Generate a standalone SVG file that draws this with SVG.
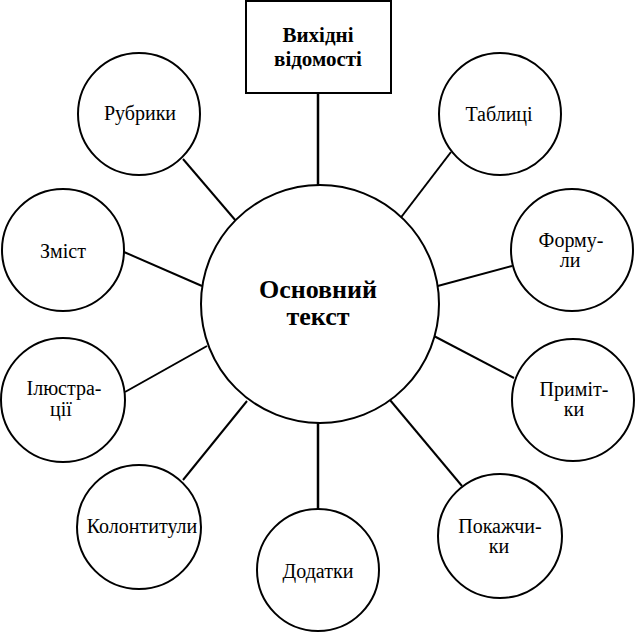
<svg xmlns="http://www.w3.org/2000/svg" width="637" height="634" viewBox="0 0 637 634">
<style>
.n{fill:#fff;stroke:#000;stroke-width:2}
.c line{stroke:#000;stroke-width:2}
.t{font-family:"Liberation Serif","Times New Roman","DejaVu Serif",serif;font-size:20px;fill:#000;text-anchor:middle}
.b{font-family:"Liberation Serif","Times New Roman","DejaVu Serif",serif;font-weight:bold;fill:#000;text-anchor:middle}
</style>
<rect width="637" height="634" fill="#fff"/>
<g class="c" id="connectors">
<line x1="318" y1="93" x2="318" y2="186" style="stroke-width:2.5"/>
<line x1="318" y1="423" x2="318" y2="509" style="stroke-width:2.5"/>
<line x1="183" y1="159" x2="236" y2="221"/>
<line x1="451" y1="152" x2="399" y2="220"/>
<line x1="124" y1="252" x2="202" y2="286"/>
<line x1="512" y1="266" x2="434" y2="287"/>
<line x1="125" y1="392" x2="207" y2="346"/>
<line x1="432" y1="335" x2="514" y2="378"/>
<line x1="183" y1="480" x2="247" y2="401"/>
<line x1="390" y1="400" x2="462" y2="486"/>
</g>
<g id="vykhidni">
<rect class="n" x="246" y="1" width="145" height="92"/>
<text class="b" x="318" y="42" font-size="21">Вихідні</text>
<text class="b" x="318" y="66" font-size="21">відомості</text>
</g>
<g id="osnovnyi">
<circle class="n" cx="320" cy="304" r="119"/>
<text class="b" x="318" y="298" font-size="26">Основний</text>
<text class="b" x="318" y="325" font-size="26">текст</text>
</g>
<g id="rubryky">
<circle class="n" cx="139" cy="114" r="61"/>
<text class="t" x="140" y="120">Рубрики</text>
</g>
<g id="tablytsi">
<circle class="n" cx="500" cy="114" r="61"/>
<text class="t" x="499" y="121">Таблиці</text>
</g>
<g id="zmist">
<circle class="n" cx="63" cy="250" r="61"/>
<text class="t" x="63" y="258">Зміст</text>
</g>
<g id="formuly">
<circle class="n" cx="572" cy="250" r="61"/>
<text class="t" x="571" y="247">Форму-</text>
<text class="t" x="570" y="267">ли</text>
</g>
<g id="ilustratsii">
<circle class="n" cx="63" cy="400" r="62"/>
<text class="t" x="64" y="395">Ілюстра-</text>
<text class="t" x="61" y="416">ції</text>
</g>
<g id="prymitky">
<circle class="n" cx="573" cy="400" r="61"/>
<text class="t" x="574" y="396">Приміт-</text>
<text class="t" x="574" y="416">ки</text>
</g>
<g id="kolontytuly">
<circle class="n" cx="139" cy="527" r="62"/>
<text class="t" x="142" y="533">Колонтитули</text>
</g>
<g id="dodatky">
<circle class="n" cx="318" cy="570" r="61"/>
<text class="t" x="318" y="578">Додатки</text>
</g>
<g id="pokazhchyky">
<circle class="n" cx="500" cy="536" r="62"/>
<text class="t" x="500" y="533">Покажчи-</text>
<text class="t" x="499" y="553">ки</text>
</g>
</svg>
